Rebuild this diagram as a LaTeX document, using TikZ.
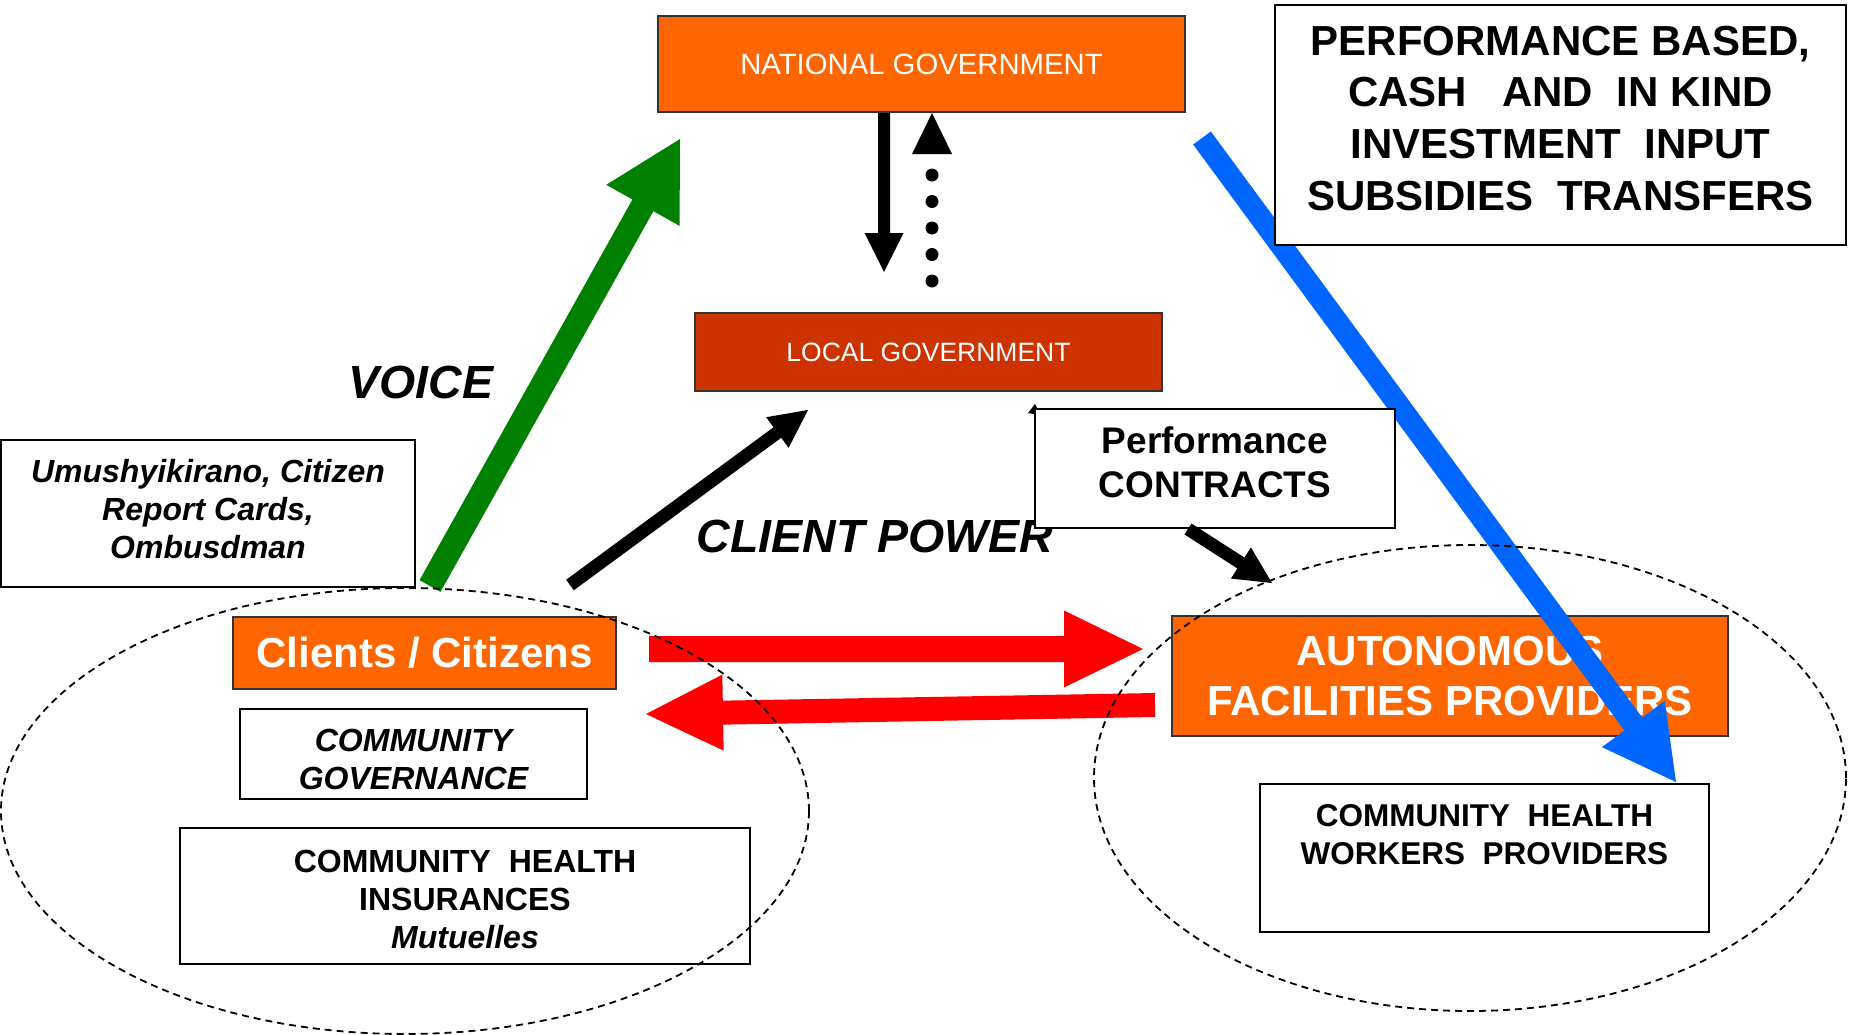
\documentclass[tikz,border=0pt]{standalone}
\usepackage{fontspec}
\setmainfont{Liberation Sans}
\usetikzlibrary{calc,shapes.geometric}
\definecolor{orng}{HTML}{FF6600}
\definecolor{rust}{HTML}{CC3300}
\definecolor{grn}{HTML}{008000}
\definecolor{blu}{HTML}{0066FF}
\definecolor{rd}{HTML}{FF0000}
% #1 colour, #2 tail, #3 tip, #4 half shaft, #5 head length, #6 half head width
\newcommand\fatarrow[6]{%
  \coordinate (fabase) at ($(#3)!#5!(#2)$);
  \fill[#1] ($(#2)!#4!90:(#3)$) -- ($(fabase)!#4!90:(#3)$) -- ($(fabase)!#6!90:(#3)$)
    -- (#3) -- ($(fabase)!#6!-90:(#3)$) -- ($(fabase)!#4!-90:(#3)$) -- ($(#2)!#4!-90:(#3)$) -- cycle;}
\tikzset{
  obox/.style={draw=black!80, line width=2pt, fill=orng, text=white, inner sep=0pt, align=center},
  wbox/.style={draw=black, line width=2pt, fill=white, inner sep=0pt, align=center},
  dellipse/.style={draw=black, ellipse, line width=1.8pt, dash pattern=on 7pt off 5pt, inner sep=0pt},
  biglabel/.style={inner sep=0pt, font=\bfseries\itshape\fontsize{46.5}{50}\selectfont}
}
\begin{document}
\begin{tikzpicture}[x=1pt,y=-1pt]
\useasboundingbox (0,0) rectangle (1853,1034);
\fill[white] (0,0) rectangle (1853,1034);

% boxes
\node[obox, minimum width=527pt, minimum height=96pt, font=\fontsize{29.3}{34}\selectfont] (natl) at (921.5,64) {NATIONAL GOVERNMENT};
\node[obox, fill=rust, minimum width=467pt, minimum height=78pt, font=\fontsize{26.5}{30}\selectfont] (local) at (928.5,352) {LOCAL GOVERNMENT};
\node[wbox, minimum width=414pt, minimum height=147pt, font=\bfseries\itshape\fontsize{32}{38}\selectfont, text depth=9pt] (umu) at (208,513.5) {Umushyikirano, Citizen\\Report Cards,\\Ombusdman};
\node[obox, minimum width=383pt, minimum height=72pt, font=\bfseries\fontsize{42}{48}\selectfont] (clients) at (424.5,653) {Clients / Citizens};
\node[wbox, minimum width=347pt, minimum height=90pt, font=\bfseries\itshape\fontsize{32}{38}\selectfont, text height=71pt] (cgov) at (413.5,754) {COMMUNITY\\GOVERNANCE};
\node[wbox, minimum width=570pt, minimum height=136pt, font=\bfseries\fontsize{32}{38}\selectfont, text height=105pt] (chi) at (465,896) {COMMUNITY \ HEALTH\\INSURANCES\\\textit{Mutuelles}};
\node[obox, minimum width=556pt, minimum height=120pt, font=\bfseries\fontsize{42}{50}\selectfont] (auto) at (1450,676) {AUTONOMOUS\\FACILITIES PROVIDERS};

% labels
\node[biglabel] (voice) at (421,382) {VOICE};
\node[biglabel] (cpower) at (875,536) {CLIENT POWER};

% arrow end points
\coordinate (gT) at (430,586);
\coordinate (gH) at (680,139);
\coordinate (dnT) at ($(natl.south)+(-37.5,0)$);
\coordinate (dnH) at (884,272);
\coordinate (upH) at ($(natl.south)+(10.5,0)$);
\coordinate (upT) at (932,281);
\coordinate (upE) at (932,150);
\coordinate (cpT) at (570,585);
\coordinate (cpH) at (808,410);
\coordinate (r1T) at (649,649);
\coordinate (r1H) at (1143,649);
\coordinate (r2T) at (1155,705);
\coordinate (r2H) at (646,714);
\coordinate (bT) at (1202,138);
\coordinate (bH) at (1676,782);

% arrows
\fatarrow{grn}{gT}{gH}{12pt}{76pt}{42pt}
\fatarrow{black}{dnT}{dnH}{6pt}{39pt}{19.5pt}
\draw[line width=13pt, line cap=round, dash pattern=on 0pt off 26.5pt] (upT) -- (upE);
\fill (upH) -- ($(upH)+(20,41)$) -- ($(upH)+(-20,41)$) -- cycle;
\fatarrow{black}{cpT}{cpH}{6.5pt}{38pt}{19pt}
\fatarrow{rd}{r1T}{r1H}{13pt}{79pt}{38.5pt}
\fatarrow{rd}{r2T}{r2H}{12pt}{77pt}{38pt}
\fatarrow{blu}{bT}{bH}{11pt}{72pt}{39pt}

% boxes drawn on top
\node[wbox, minimum width=360pt, minimum height=119pt, font=\bfseries\fontsize{37}{44}\selectfont, text depth=12pt] (pcon) at (1215,468.5) {Performance\\CONTRACTS};
\node[wbox, minimum width=571pt, minimum height=240pt, font=\bfseries\fontsize{42}{51.6}\selectfont, text depth=14pt] (pbased) at (1560.5,125) {PERFORMANCE BASED,\\CASH \ \ AND \ IN KIND\\INVESTMENT \ INPUT\\SUBSIDIES \ TRANSFERS};
\node[wbox, minimum width=449pt, minimum height=148pt,
  label={[anchor=north, yshift=-21pt, inner sep=0pt, align=center, font=\bfseries\fontsize{31.5}{38}\selectfont]north:{COMMUNITY \ HEALTH\\WORKERS \ PROVIDERS}}] (chw) at (1484.5,858) {};

\coordinate (pcT) at ($(pcon.south)+(-27,0)$);
\coordinate (pcH) at (1272,583);
\fatarrow{black}{pcT}{pcH}{6.5pt}{37pt}{18.5pt}
\fill ($(pcon.north west)+(-6,5)$) -- ($(pcon.north west)+(1,-4)$) -- ($(pcon.north west)+(3,0)$) -- ($(pcon.north west)+(0,6)$) -- cycle;

% dashed ellipses
\node[dellipse, minimum width=808pt, minimum height=446pt] (lell) at (405,811) {};
\node[dellipse, minimum width=752pt, minimum height=466pt] (rell) at (1470,778) {};
\end{tikzpicture}
\end{document}
